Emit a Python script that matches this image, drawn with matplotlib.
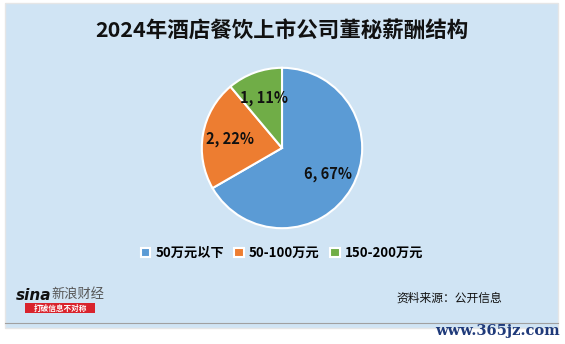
import numpy as np
import matplotlib.pyplot as plt
from matplotlib.patches import Rectangle

plt.rcParams['font.family'] = ['Noto Sans CJK SC', 'DejaVu Sans']

# 数据
categories = ['50万元以下', '50-100万元', '150-200万元']
counts = [6, 2, 1]
colors = ['#5B9BD5', '#ED7D31', '#70AD47']

total = sum(counts)
labels_txt = [f'{c}, {round(c / total * 100)}%' for c in counts]

fig = plt.figure(figsize=(5.65, 3.44), dpi=100)
fig.patch.set_facecolor('white')

# 背景面板
bg = fig.add_axes([0, 0, 1, 1])
bg.set_xlim(0, 565)
bg.set_ylim(344, 0)
bg.axis('off')
bg.add_patch(Rectangle((5, 3), 553, 325, facecolor='#D0E4F4', edgecolor='#E6E6E6', lw=1))
bg.plot([5, 558], [323, 323], color='#A0A0A0', lw=0.8)

bg.text(282, 31, '2024年酒店餐饮上市公司董秘薪酬结构', ha='center', va='center',
        fontsize=15.5, fontweight='bold', color='#111111')

# 饼图
ax = fig.add_axes([(282 - 81) / 565, 1 - (148 + 81) / 344, 162 / 565, 162 / 344])
wedges, texts = ax.pie(counts, colors=colors, startangle=90, counterclock=False,
                       wedgeprops=dict(edgecolor='white', linewidth=1.5))
for w, t in zip(wedges, labels_txt):
    ang = np.deg2rad((w.theta1 + w.theta2) / 2)
    ax.text(0.66 * np.cos(ang), 0.66 * np.sin(ang), t, ha='center', va='center',
            fontsize=10.5, fontweight='bold', color='#111111')
ax.set_aspect('equal')
ax.set_xlim(-1.01, 1.01)
ax.set_ylim(-1.01, 1.01)

# 图例
leg = fig.legend(wedges, categories, loc='center', bbox_to_anchor=(282 / 565, 1 - 253 / 344),
                 ncol=3, frameon=False, fontsize=9.5, handlelength=0.7, handleheight=0.7,
                 columnspacing=0.8, handletextpad=0.4)
for t in leg.get_texts():
    t.set_fontweight('bold')
for h in leg.legend_handles:
    h.set_edgecolor('white')

# 底部
bg.text(16, 295, 'sina', fontsize=11, fontweight='bold', fontstyle='italic', color='#111111',
        va='center', family='DejaVu Sans')
bg.text(51, 294, '新浪财经', fontsize=9.5, color='#555555', va='center')
bg.add_patch(Rectangle((25, 303), 70, 10, facecolor='#D9232C', edgecolor='none'))
bg.text(60, 308, '打破信息不对称', fontsize=5.5, color='white', ha='center', va='center',
        fontweight='bold')
bg.text(502, 298, '资料来源：公开信息', fontsize=8.5, ha='right', va='center', color='#111111')

bg.text(560, 331, 'www.365jz.com', fontsize=10.5, ha='right', va='center', color='#1F3A7A',
        family='DejaVu Serif', fontweight='bold')

fig.savefig('out.png', dpi=100, facecolor=fig.get_facecolor())
